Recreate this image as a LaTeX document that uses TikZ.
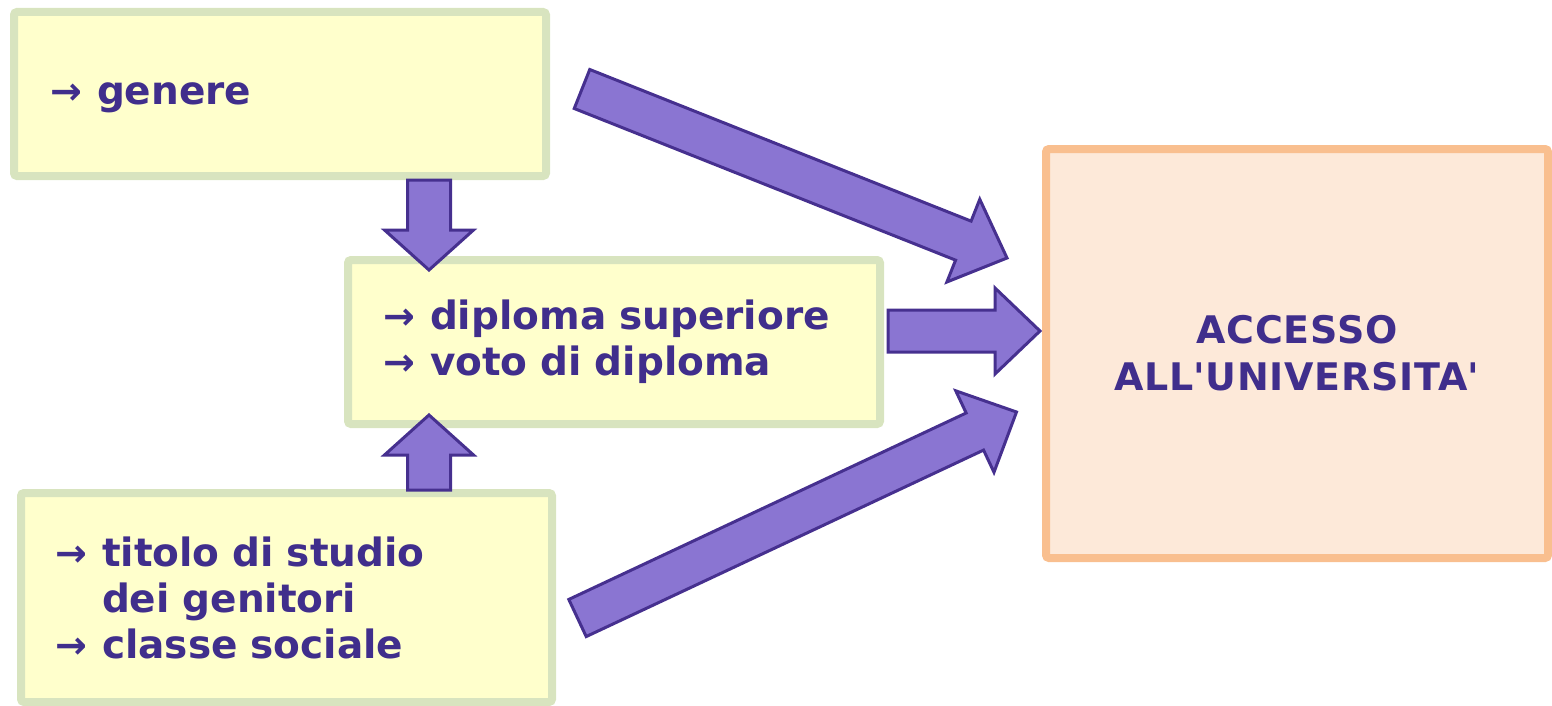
\documentclass[tikz,border=0pt]{standalone}
\usepackage{fontspec}
\setmainfont{DejaVu Sans}
\usetikzlibrary{calc}
\definecolor{boxfill}{HTML}{FFFFCC}
\definecolor{boxline}{HTML}{D8E4BF}
\definecolor{goalfill}{HTML}{FDE9D9}
\definecolor{goalline}{HTML}{F9BF8F}
\definecolor{arrowfill}{HTML}{8A75D2}
\definecolor{arrowline}{HTML}{46308F}
\definecolor{txt}{HTML}{402E8C}
\newcommand*\itemarrow{\makebox[47pt][l]{\fontsize{38}{46}\selectfont →}}
% block arrow: tail, tip, half shaft, half head, head length
\newcommand*\fatarrow[5]{%
  \coordinate (hb) at ($(#2)!#5!(#1)$);
  \draw[fat] ($(#1)!#3!90:(#2)$) -- ($(hb)!#3!90:(#2)$)
    -- ($(hb)!#4!90:(#2)$) -- (#2) -- ($(hb)!#4!-90:(#2)$)
    -- ($(hb)!#3!-90:(#2)$) -- ($(#1)!#3!-90:(#2)$) -- cycle;}

\begin{document}
\begin{tikzpicture}[x=1pt,y=-1pt,line join=miter]
		\tikzstyle{box}=[draw=boxline,fill=boxfill,line width=8pt,rounded corners=3pt,
			text=txt,align=left,font=\bfseries\fontsize{39}{46}\selectfont]
		\tikzstyle{goal}=[box,draw=goalline,fill=goalfill,align=center,
			font=\bfseries\fontsize{38}{47}\selectfont\addfontfeature{LetterSpace=2}]
		\tikzstyle{fat}=[draw=arrowline,fill=arrowfill,line width=3pt]
		\useasboundingbox (0,0) rectangle (1552,706);

		\node[box, minimum height=164, inner xsep=36, text width=460,
			text height=32, text depth=10] (gen) at (280,94)
			{\itemarrow genere};
		\node[box, minimum height=164, inner xsep=35, text width=462] (dip) at (614,342)
			{\itemarrow diploma superiore\\ \itemarrow voto di diploma};
		\node[box, minimum height=209, inner xsep=34, text width=463] (tit) at (286.5,597.5)
			{\itemarrow titolo di studio\\ \hspace*{47pt}dei genitori\\ \itemarrow classe sociale};
		\node[goal, minimum width=502, minimum height=409] (acc) at (1297,353.5)
			{ACCESSO\\ ALL\textquotesingle UNIVERSITA\textquotesingle};

		\coordinate (gen-dip) at (429,180);  \coordinate (dip-in) at (429,270);
		\coordinate (tit-dip) at (429,490);  \coordinate (dip-up) at (429,415);
		\coordinate (dip-acc) at (888,331);  \coordinate (acc-mid) at (1040,331);
		\coordinate (gen-acc) at (582,89);   \coordinate (acc-top) at (1007,258);
		\coordinate (tit-acc) at (577.5,618); \coordinate (acc-low) at (1016.5,412);

		\fatarrow{gen-dip}{dip-in}{21.5pt}{44.5pt}{40pt}
		\fatarrow{tit-dip}{dip-up}{21.5pt}{44.5pt}{40pt}
		\fatarrow{dip-acc}{acc-mid}{21pt}{43pt}{45pt}
		\fatarrow{gen-acc}{acc-top}{21pt}{44.5pt}{47pt}
		\fatarrow{tit-acc}{acc-low}{20.5pt}{45pt}{46pt}
\end{tikzpicture}
\end{document}
